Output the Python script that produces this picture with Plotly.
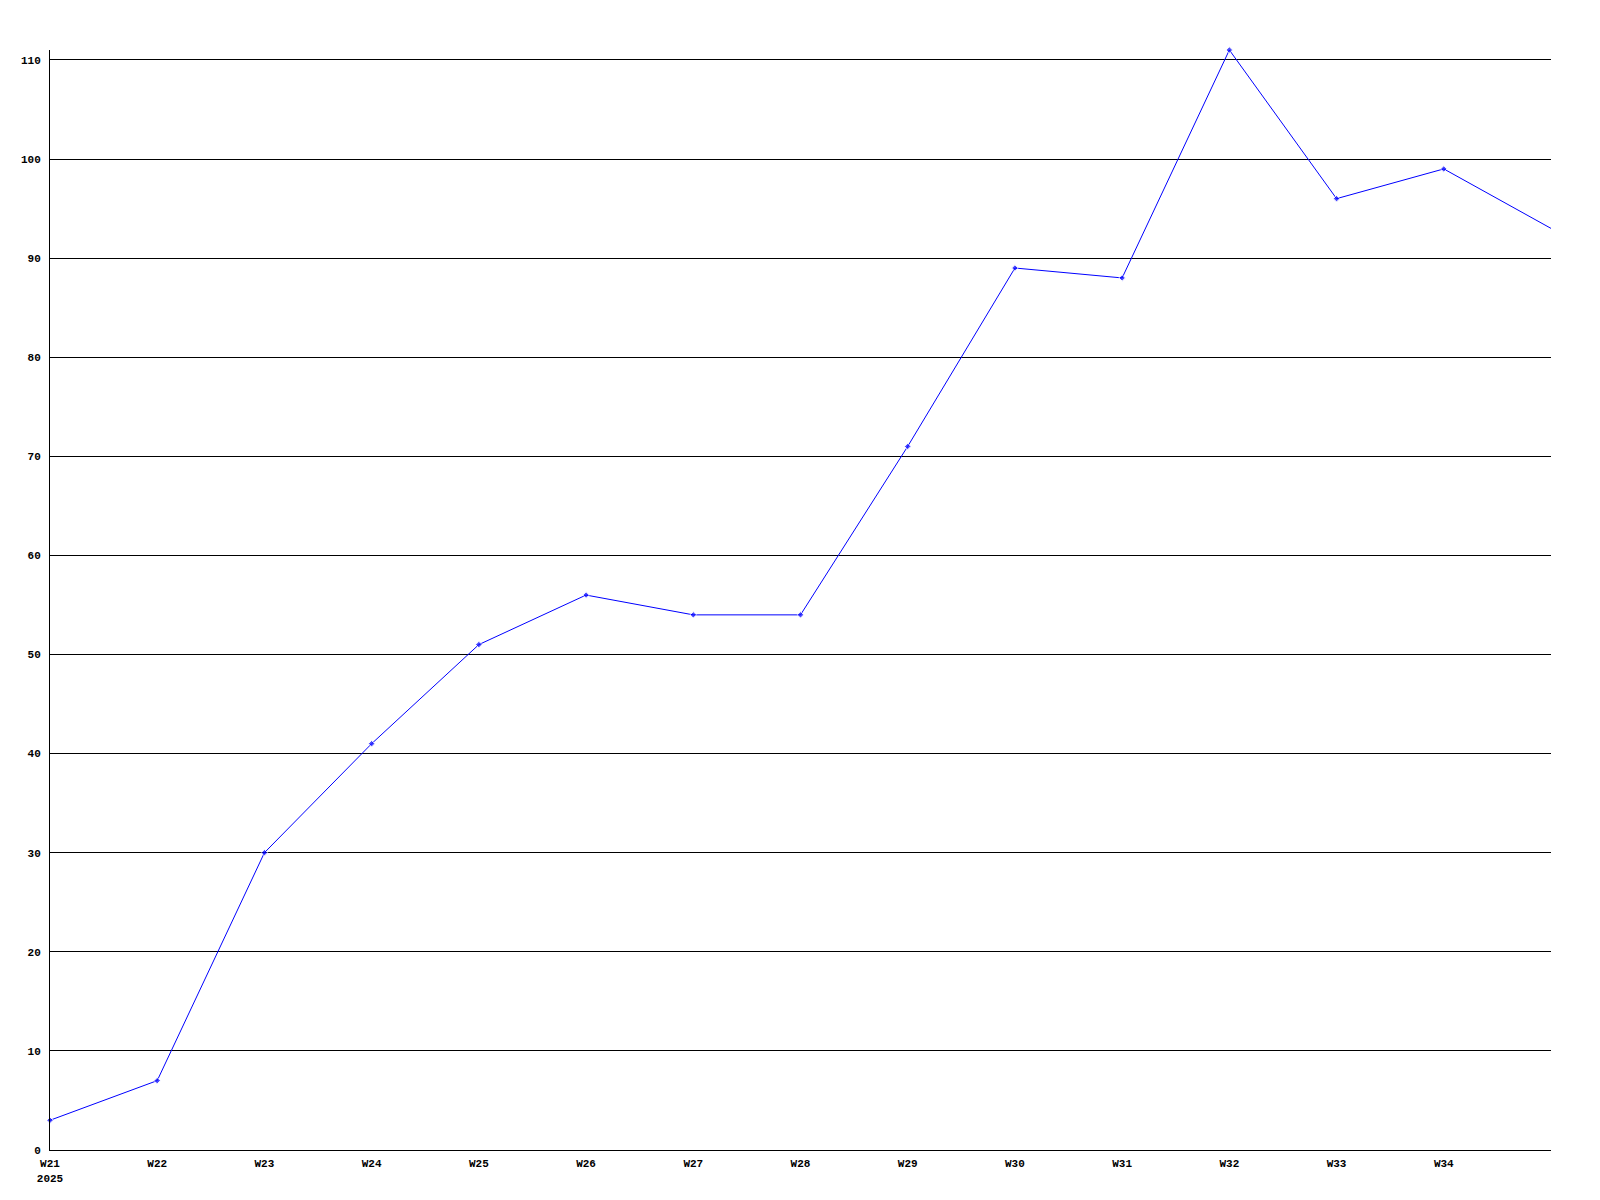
import plotly.graph_objects as go

weeks = ["W21", "W22", "W23", "W24", "W25", "W26", "W27", "W28", "W29", "W30",
         "W31", "W32", "W33", "W34", "W35"]
values = [3, 7, 30, 41, 51, 56, 54, 54, 71, 89, 88, 111, 96, 99, 93]
year = "2025"

x = list(range(len(weeks)))
tick_text = [weeks[0] + "<br>" + year] + weeks[1:-1]
tick_vals = x[:-1]

font = dict(family="Liberation Mono, Courier New, monospace", size=11, color="#000000")

sizes = [5] * (len(values) - 1) + [0]

fig = go.Figure()
fig.add_trace(go.Scatter(
    x=x, y=values, mode="lines+markers",
    line=dict(color="#0000ff", width=1),
    marker=dict(color="#0000ff", size=sizes, symbol="diamond"),
    cliponaxis=False,
    showlegend=False,
))

fig.update_layout(
    width=1600, height=1200,
    margin=dict(l=42, r=57, t=42, b=58),
    paper_bgcolor="white", plot_bgcolor="white",
    font=font,
    xaxis=dict(
        range=[0, 14], tickvals=tick_vals, ticktext=tick_text,
        showgrid=False, zeroline=False, showline=True, linecolor="black",
        linewidth=1, ticks="", ticklabelstandoff=3,
        tickfont=dict(family=font["family"], size=11, weight="bold"),
        mirror=False,
    ),
    yaxis=dict(
        range=[0, 111], tickvals=list(range(0, 120, 10)),
        showgrid=True, gridcolor="black", gridwidth=1, zeroline=False,
        showline=True, linecolor="black", linewidth=1, ticks="",
        ticklabelstandoff=6,
        tickfont=dict(family=font["family"], size=11, weight="bold"),
    ),
)

fig.write_html("out.html")
